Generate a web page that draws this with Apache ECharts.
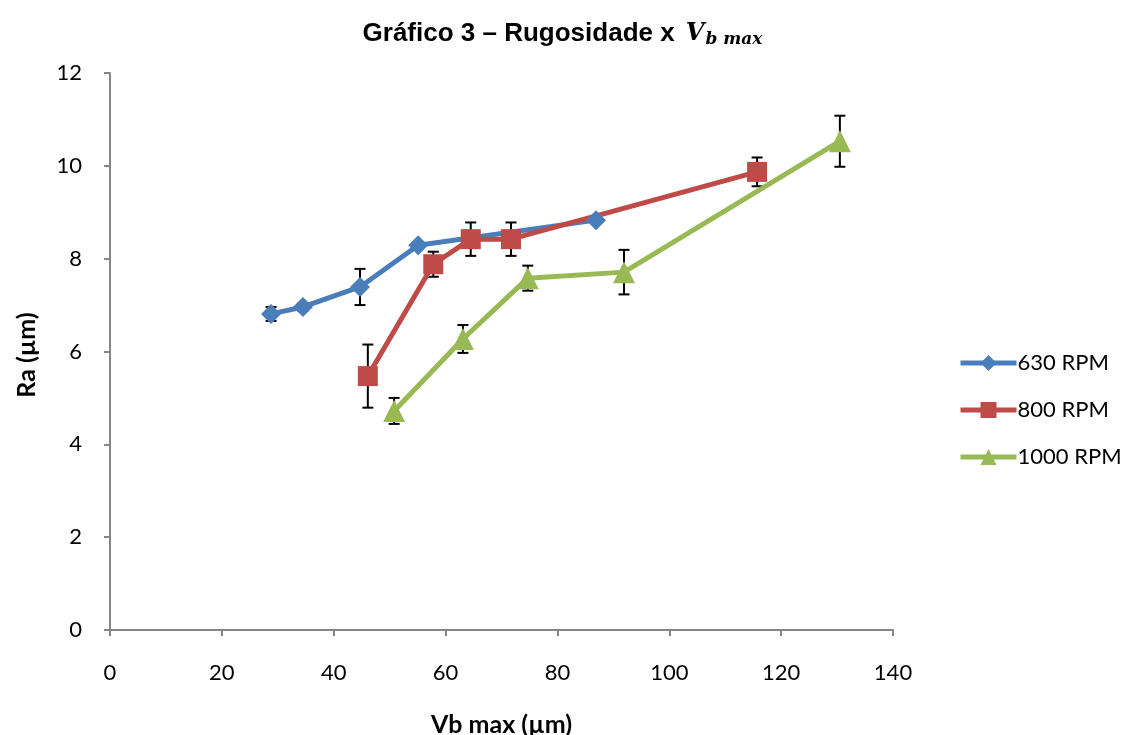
<!DOCTYPE html>
<html><head><meta charset="utf-8">
<script src="https://cdn.jsdelivr.net/npm/echarts@6/dist/echarts.min.js"></script>
<style>html,body{margin:0;padding:0;background:#fff}#c{width:1125px;height:735px}</style>
</head><body><div id="c"></div>
<script>
const xTicks = [0, 20, 40, 60, 80, 100, 120, 140];
const yTicks = [0, 2, 4, 6, 8, 10, 12];
const seriesNames = ['630 RPM', '800 RPM', '1000 RPM'];
const x630 = [28.8, 34.5, 44.7, 55.1, 86.9];
const y630 = [6.81, 6.96, 7.39, 8.29, 8.83];
const e630 = [0.15, 0.08, 0.39, 0.05, 0.05];
const x800 = [46.1, 57.8, 64.5, 71.7, 115.7];
const y800 = [5.47, 7.88, 8.42, 8.42, 9.87];
const e800 = [0.68, 0.27, 0.36, 0.36, 0.31];
const x1000 = [50.8, 63.1, 74.7, 91.9, 130.5];
const y1000 = [4.72, 6.27, 7.58, 7.71, 10.53];
const e1000 = [0.28, 0.3, 0.27, 0.48, 0.55];

const colors = ['#4a7ebb', '#be4b48', '#98b954'];
const symbols = ['diamond', 'rect', 'triangle'];
const symSizes = [20, 20, 22];

function pts(xs, ys) { return xs.map((x, i) => [x, ys[i]]); }
function errs(xs, ys, es) { return xs.map((x, i) => [x, ys[i] - es[i], ys[i] + es[i]]); }

const sets = [[x630, y630, e630], [x800, y800, e800], [x1000, y1000, e1000]];

const series = [];
sets.forEach((s, k) => {
  series.push({
    type: 'custom', name: seriesNames[k] + ' err', z: 1,
    data: errs(s[0], s[1], s[2]),
    renderItem: function (params, api) {
      const x = api.value(0);
      const lo = api.coord([x, api.value(1)]);
      const hi = api.coord([x, api.value(2)]);
      const w = 5.5;
      const st = { stroke: '#000', lineWidth: 2 };
      return { type: 'group', children: [
        { type: 'line', shape: { x1: lo[0], y1: lo[1], x2: hi[0], y2: hi[1] }, style: st },
        { type: 'line', shape: { x1: lo[0] - w, y1: lo[1], x2: lo[0] + w, y2: lo[1] }, style: st },
        { type: 'line', shape: { x1: hi[0] - w, y1: hi[1], x2: hi[0] + w, y2: hi[1] }, style: st }
      ]};
    },
    silent: true
  });
});
sets.forEach((s, k) => {
  series.push({
    type: 'line', name: seriesNames[k], z: 5,
    data: pts(s[0], s[1]),
    symbol: symbols[k], symbolSize: symSizes[k],
    lineStyle: { color: colors[k], width: 5 },
    itemStyle: { color: colors[k] },
    animation: false
  });
});

const chart = echarts.init(document.getElementById('c'));
chart.setOption({
  animation: false,
  title: {
    text: '{a|Gráfico 3 – Rugosidade x }{v|V}{s|b max}',
    left: 'center', top: 14,
    textStyle: {
      rich: {
        a: { fontFamily: 'Liberation Sans', fontWeight: 'bold', fontSize: 26, color: '#000' },
        v: { fontFamily: 'DejaVu Serif', fontStyle: 'italic', fontWeight: 'bold', fontSize: 24, color: '#000', padding: [0, 0, 0, 4] },
        s: { fontFamily: 'DejaVu Serif', fontStyle: 'italic', fontWeight: 'bold', fontSize: 17, color: '#000', padding: [12, 0, 0, 1] }
      }
    }
  },
  legend: {
    data: seriesNames,
    orient: 'vertical', left: 953, top: 347,
    itemWidth: 56, itemHeight: 20, itemGap: 25,
    lineStyle: { width: 5 },
    textStyle: { fontFamily: 'Lato', fontSize: 22, color: '#000', padding: [0, 0, 0, -4] }
  },
  graphic: [{
    type: 'text', x: 27, y: 355, rotation: Math.PI / 2,
    style: { text: 'Ra (µm)', font: 'bold 25px Lato', fill: '#000', align: 'center', verticalAlign: 'middle' }
  }],
  grid: { left: 110, right: 232, top: 73, bottom: 105, containLabel: false, outerBoundsMode: 'none' },
  xAxis: {
    type: 'value', min: 0, max: 140, interval: 20,
    name: 'Vb max (µm)', nameLocation: 'middle', nameGap: 82,
    nameTextStyle: { fontFamily: 'Lato', fontWeight: 'bold', fontSize: 25, color: '#000' },
    axisLine: { lineStyle: { color: '#868686', width: 2 } },
    axisTick: { show: true, length: 6, lineStyle: { color: '#868686', width: 2 } },
    axisLabel: { fontFamily: 'Lato', fontSize: 22, color: '#000', margin: 32 },
    splitLine: { show: false }
  },
  yAxis: {
    type: 'value', min: 0, max: 12, interval: 2,
    axisLine: { show: true, lineStyle: { color: '#868686', width: 2 } },
    axisTick: { show: true, length: 6, lineStyle: { color: '#868686', width: 2 } },
    axisLabel: { fontFamily: 'Lato', fontSize: 22, color: '#000', margin: 28 },
    splitLine: { show: false }
  },
  series: series
});
</script>
</body></html>
